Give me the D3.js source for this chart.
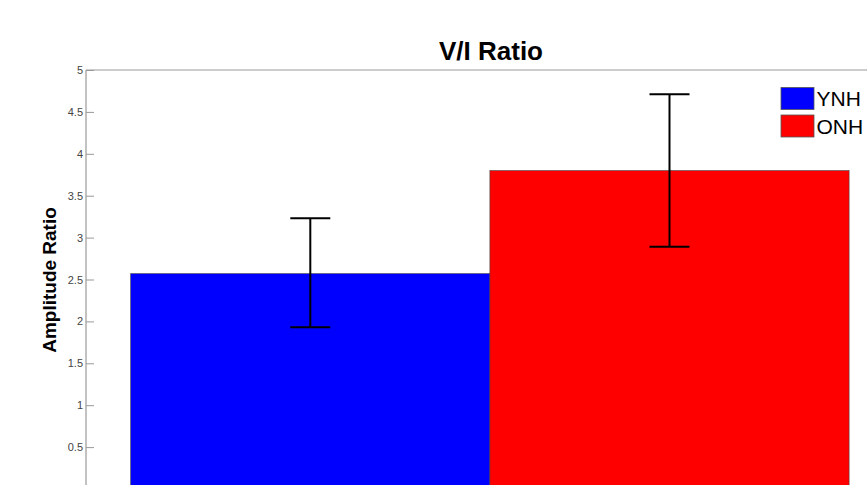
<!DOCTYPE html>
<html>
<head>
<meta charset="utf-8">
<script src="https://cdn.jsdelivr.net/npm/d3@7"></script>
<style>
  html, body { margin: 0; padding: 0; background: #fff; }
  svg { display: block; }
</style>
</head>
<body>
<svg id="chart" width="867" height="485"></svg>
<script>
// ---- data ----
const categories = ["YNH", "ONH"];
const means = [2.57, 3.80];
const errLow = [1.93, 2.89];
const errHigh = [3.23, 4.71];
const colors = ["#0000ff", "#ff0000"];
const yTicks = [0.5, 1, 1.5, 2, 2.5, 3, 3.5, 4, 4.5, 5];
const titleText = "V/I Ratio";
const yLabelText = "Amplitude Ratio";

(function () {
const svg = d3.select("#chart");
const W = 867, H = 485;

// plot area
const plotLeft = 86;
const y = d3.scaleLinear().domain([0, 5]).range([489, 70]);
const x = d3.scaleLinear().domain([1, 2]).range([310.3, 669.5]);
const plotRight = x(2.625);
const barW = x(1.5) - x(0.5);

const g = svg.append("g");

// bars
g.selectAll("rect.bar").data(means).enter().append("rect")
  .attr("class", "bar")
  .attr("x", (d, i) => x(i + 1) - barW / 2)
  .attr("y", d => y(d))
  .attr("width", barW)
  .attr("height", d => y(0) - y(d))
  .attr("fill", (d, i) => colors[i])
  .attr("stroke", "#444")
  .attr("stroke-width", 0.6);

// error bars
const capW = 40;
means.forEach((m, i) => {
  const cx = x(i + 1);
  g.append("line").attr("x1", cx).attr("x2", cx)
    .attr("y1", y(errLow[i])).attr("y2", y(errHigh[i]))
    .attr("stroke", "#000").attr("stroke-width", 2);
  [errLow[i], errHigh[i]].forEach(v => {
    g.append("line").attr("x1", cx - capW / 2).attr("x2", cx + capW / 2)
      .attr("y1", y(v)).attr("y2", y(v))
      .attr("stroke", "#000").attr("stroke-width", 2);
  });
});

// axis box top line
g.append("line").attr("x1", plotLeft).attr("x2", plotRight)
  .attr("y1", y(5)).attr("y2", y(5))
  .attr("stroke", "#999").attr("stroke-width", 1);

// y axis
const yAxis = d3.axisLeft(y).tickValues(yTicks).tickSize(-8).tickPadding(4)
  .tickFormat(d => String(d));
const ya = g.append("g").attr("transform", `translate(${plotLeft},0)`).call(yAxis);
ya.select(".domain").attr("stroke", "#999").attr("stroke-width", 1.2)
  .attr("d", `M0,${y(5)}V${H + 10}`);
ya.selectAll(".tick line").attr("stroke", "#999");
ya.selectAll(".tick text")
  .attr("font-family", "Liberation Sans, Arial, sans-serif")
  .attr("font-size", 11).attr("fill", "#444")
  .attr("x", -3);

// title
svg.append("text").attr("x", 491).attr("y", 60)
  .attr("text-anchor", "middle")
  .attr("font-family", "Liberation Sans, Arial, sans-serif")
  .attr("font-weight", "bold").attr("font-size", 26)
  .attr("fill", "#000").text(titleText);

// y label
svg.append("text")
  .attr("transform", "translate(56,280) rotate(-90)")
  .attr("text-anchor", "middle")
  .attr("font-family", "Liberation Sans, Arial, sans-serif")
  .attr("font-weight", "bold").attr("font-size", 19)
  .attr("fill", "#000").text(yLabelText);

// legend
const leg = svg.append("g");
categories.forEach((c, i) => {
  const yy = 87.5 + i * 27.5;
  leg.append("rect").attr("x", 781).attr("y", yy)
    .attr("width", 33).attr("height", 22)
    .attr("fill", colors[i]).attr("stroke", "#555").attr("stroke-width", 0.8);
  leg.append("text").attr("x", 816.5).attr("y", yy + 18.5)
    .attr("font-family", "Liberation Sans, Arial, sans-serif")
    .attr("font-size", 21).attr("fill", "#000").text(c);
});
})();
</script>
</body>
</html>
